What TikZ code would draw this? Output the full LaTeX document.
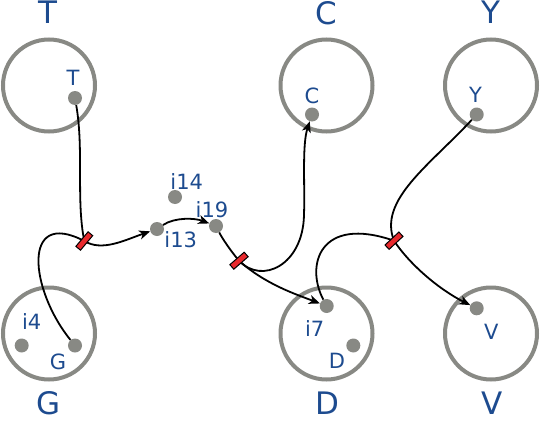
\documentclass[tikz,border=0pt]{standalone}
\usepackage{fontspec}
\setmainfont{DejaVu Sans}
\usetikzlibrary{arrows.meta}
\definecolor{grpgrey}{HTML}{888984}
\definecolor{lblblue}{HTML}{1d4b8f}
\definecolor{cutred}{HTML}{e8292d}
\tikzset{
  grp/.style={circle, draw=grpgrey, line width=4pt, minimum size=92pt, inner sep=0},
  grplab/.style={text=lblblue, font=\fontsize{31}{31}\selectfont, inner sep=0},
  port/.style={circle, fill=grpgrey, minimum size=14pt, inner sep=0},
  portlab/.style={text=lblblue, font=\fontsize{21}{21}\selectfont, inner sep=0},
  wire/.style={draw=black, line width=1.8pt},
  flow/.style={wire, -{Stealth[length=11pt,width=9pt,inset=3pt]}},
  cut/.style={rectangle, draw=black, line width=1pt, fill=cutred,
              minimum width=19pt, minimum height=6pt, inner sep=0},
}

\begin{document}
\begin{tikzpicture}[x=1pt, y=-1pt]
  \useasboundingbox (0,0) rectangle (540,444);

  % --- Groups ---
  \node[grp] (gT) at (49,85.5) {};
  \node[grp] (gC) at (326.5,85.5) {};
  \node[grp] (gY) at (491,85.5) {};
  \node[grp] (gG) at (49,333.5) {};
  \node[grp] (gD) at (326.5,333.5) {};
  \node[grp] (gV) at (491,333.5) {};

  \node[grplab] (lT) at (48,12.5) {T};
  \node[grplab] (lC) at (326,13) {C};
  \node[grplab] (lY) at (491,12.5) {Y};
  \node[grplab] (lG) at (49,403) {G};
  \node[grplab] (lD) at (327,403) {D};
  \node[grplab] (lV) at (492,403) {V};

  % --- Ports ---
  \node[port] (T)   at (75,98) {};
  \node[port] (G)   at (75,345.5) {};
  \node[port] (i4)  at (21.7,345.5) {};
  \node[port] (i13) at (157,229) {};
  \node[port] (i14) at (175,197) {};
  \node[port] (i19) at (216,226) {};
  \node[port] (C)   at (312,114.5) {};
  \node[port] (Y)   at (476.7,114.5) {};
  \node[port] (i7)  at (326.7,306) {};
  \node[port] (D)   at (353.3,345.5) {};
  \node[port] (V)   at (476.7,308.3) {};

  \node[portlab] (tT)   at (73,78) {T};
  \node[portlab] (tG)   at (58,362) {G};
  \node[portlab] (ti4)  at (31.7,322) {i4};
  \node[portlab] (ti13) at (180.7,239.5) {i13};
  \node[portlab] (ti14) at (186.7,181.7) {i14};
  \node[portlab] (ti19) at (212,209.5) {i19};
  \node[portlab] (tC)   at (312,96) {C};
  \node[portlab] (tY)   at (475.5,95) {Y};
  \node[portlab] (ti7)  at (314.7,328.3) {i7};
  \node[portlab] (tD)   at (337,361.3) {D};
  \node[portlab] (tV)   at (491.3,331.7) {V};

  % --- Wires ---
  \coordinate (j1) at (84.3,241);
  \coordinate (j2) at (239,260.7);
  \coordinate (j3) at (394,240.7);

  \draw[wire] (T) .. controls (84,150) and (76,200) .. (j1);
  \draw[wire] (G) .. controls (30,290) and (21,208) .. (j1);
  \draw[flow] (j1) .. controls (102,252) and (125,240) .. (i13);
  \draw[flow] (i13) .. controls (175,217) and (195,218) .. (i19);
  \draw[wire] (i19) .. controls (222,238) and (230,250) .. (j2);
  \draw[flow] (j2) .. controls (262,285) and (303,265) .. (304,215)
                   .. controls (305,185) and (302,145) .. (C);
  \draw[flow] (j2) .. controls (265,284) and (295,294) .. (i7);
  \draw[wire] (Y) .. controls (430,165) and (378,200) .. (j3);
  \draw[wire] (i7) .. controls (305,265) and (320,215) .. (j3);
  \draw[flow] (j3) .. controls (410,265) and (440,290) .. (V);

  % --- Cuts ---
  \node[cut, rotate=50] (m1) at (j1) {};
  \node[cut, rotate=41] (m2) at (j2) {};
  \node[cut, rotate=43] (m3) at (j3) {};
\end{tikzpicture}
\end{document}
